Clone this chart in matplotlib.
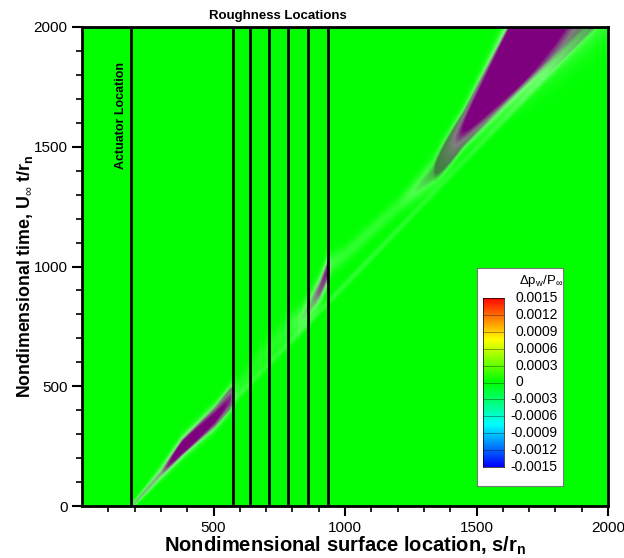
import numpy as np
import matplotlib
matplotlib.use("Agg")
import matplotlib.pyplot as plt
from matplotlib.colors import LinearSegmentedColormap, Normalize

plt.rcParams['font.family'] = ['Liberation Sans', 'DejaVu Sans']
plt.rcParams['mathtext.fontset'] = 'custom'
plt.rcParams['mathtext.rm'] = 'Liberation Sans'
plt.rcParams['mathtext.it'] = 'Liberation Sans:italic'
plt.rcParams['mathtext.bf'] = 'Liberation Sans:bold'

# element locations (surface coordinate s/r_n)
actuator_x = 187
roughness_x = [575, 640, 710, 782, 860, 937]

# wave packet track: surface location, time of packet
# centre, peak amplitude and time-width of the envelope
env_x = [190, 300, 380, 506, 565, 578, 600, 700, 790, 830, 870, 905, 935, 948, 1000, 1200, 1335, 1450, 1616, 1800, 2000]
env_t = [0, 140, 246, 372, 450, 470, 500, 640, 745, 777, 840, 905, 985, 1010, 1050, 1250, 1390, 1574, 1840, 2135, 2455]
env_a = [0.0007, 0.0012, 0.003, 0.004, 0.004, 0.0006, 0.0003, 0.0004, 0.0004, 0.0008, 0.0012, 0.002, 0.0025, 0.0005, 0.0004, 0.0004, 0.0012, 0.006, 0.012, 0.012, 0.012]
env_w = [8, 18, 25, 27, 28, 28, 30, 40, 40, 35, 35, 35, 35, 30, 25, 25, 40, 40, 74, 123, 175]

# faint leading front
lead_x0 = 190
lead_speed = 0.877
lead_amp = 0.0004
lead_w = 12

# carrier wave, finer than a pixel so red and blue blend to purple
wavelength = 1.9
phase_speed = 0.91

levels = [-0.0015, -0.0012, -0.0009, -0.0006, -0.0003, 0, 0.0003, 0.0006, 0.0009, 0.0012, 0.0015]
level_labels = ['-0.0015', '-0.0012', '-0.0009', '-0.0006', '-0.0003', '0',
                '0.0003', '0.0006', '0.0009', '0.0012', '0.0015']

cmap = LinearSegmentedColormap.from_list(
    'small_rainbow', ['#0000ff', '#00ffff', '#00ff00', '#ffff00', '#ff0000'])
norm = Normalize(vmin=-0.0015, vmax=0.0015)

# plot area in pixels; field sampled 8x finer and colours averaged per pixel
nx, nt, sub = 526, 479, 8
s = (np.arange(nx * sub) + 0.5) / (nx * sub) * 2000
t = (np.arange(nt * sub) + 0.5) / (nt * sub) * 2000
A1 = np.interp(s, env_x, env_a, left=0.0)
Tc1 = np.interp(s, env_x, env_t)
W1 = np.interp(s, env_x, env_w)
lead_t = (s - lead_x0) / lead_speed

rgba = np.zeros((nt, nx, 4), dtype=np.float32)
rows = 30
for j0 in range(0, nt, rows):
    j1 = min(nt, j0 + rows)
    tt = t[j0 * sub:j1 * sub][:, None]
    env = A1 * np.exp(-0.5 * ((tt - Tc1) / W1) ** 2)
    lead = lead_amp * np.exp(-0.5 * ((tt - lead_t) / lead_w) ** 2)
    lead[:, s < lead_x0] = 0
    field = (env + lead) * np.cos(2 * np.pi / wavelength * (s - phase_speed * tt))
    col = cmap(norm(field)).astype(np.float32)
    rgba[j0:j1] = col.reshape(j1 - j0, sub, nx, sub, 4).mean(axis=(1, 3))

fig = plt.figure(figsize=(6.24, 5.58), dpi=100)
ax = fig.add_axes([82 / 624, 52 / 558, nx / 624, nt / 558])

ax.imshow(rgba, origin='lower', extent=[0, 2000, 0, 2000], aspect='auto',
          interpolation='nearest')

ax.axvline(actuator_x, color='black', lw=2)
for xr in roughness_x:
    ax.axvline(xr, color='black', lw=2)

ax.text(150, 1855, 'Actuator Location', rotation=90, fontsize=9,
        fontweight='bold', ha='center', va='top')
ax.text(745, 2046, 'Roughness Locations', fontsize=9.5, fontweight='bold',
        ha='center', va='center', clip_on=False)

ax.set_xlim(0, 2000)
ax.set_ylim(0, 2000)
ax.set_xticks([500, 1000, 1500, 2000])
ax.set_xticks(np.arange(100, 2000, 100), minor=True)
ax.set_yticks([0, 500, 1000, 1500, 2000])
ax.set_yticks(np.arange(100, 2000, 100), minor=True)
ax.tick_params(which='major', length=7, width=1.5, labelsize=11, direction='out')
ax.tick_params(which='minor', length=4, width=1.2, direction='out')
for sp in ax.spines.values():
    sp.set_linewidth(2)

ax.set_xlabel('Nondimensional surface location, s/r$_\\mathbf{n}$',
              fontsize=14.5, fontweight='bold')
ax.set_ylabel('Nondimensional time, U$_\\infty$ t/r$_\\mathbf{n}$',
              fontsize=12.8, fontweight='bold')
ax.xaxis.set_label_coords(0.5, -0.06)
ax.yaxis.set_label_coords(-0.09, 0.48)

# legend box with colour bar
box = fig.add_axes([477 / 624, 72 / 558, 86 / 624, 218 / 558], zorder=5)
box.set_xticks([])
box.set_yticks([])
for sp in box.spines.values():
    sp.set_color('#777777')
    sp.set_linewidth(0.8)

cb = fig.add_axes([483 / 624, 91 / 558, 21 / 624, 169 / 558], zorder=6)
grad = np.linspace(levels[0], levels[-1], 256)[:, None]
cb.imshow(grad, origin='lower', aspect='auto', cmap=cmap, norm=norm,
          extent=[0, 1, levels[0], levels[-1]])
for lv in levels[1:-1]:
    cb.axhline(lv, color='black', lw=0.5, alpha=0.5)
cb.set_xticks([])
cb.set_yticks([])
for sp in cb.spines.values():
    sp.set_linewidth(0.5)

ypos = np.linspace(91 / 558, 260 / 558, len(levels))
for lv, lab, yy in zip(levels, level_labels, ypos):
    xx = 510 / 624 if lv < 0 else 515 / 624
    box.text(xx, yy, lab, transform=fig.transFigure, fontsize=10,
             ha='left', va='center')
box.text(541 / 624, 277 / 558, '$\\Delta$p$_\\mathrm{w}$/P$_\\infty$',
         transform=fig.transFigure, fontsize=9.5, ha='center', va='center')

fig.savefig('out.png', dpi=100)
